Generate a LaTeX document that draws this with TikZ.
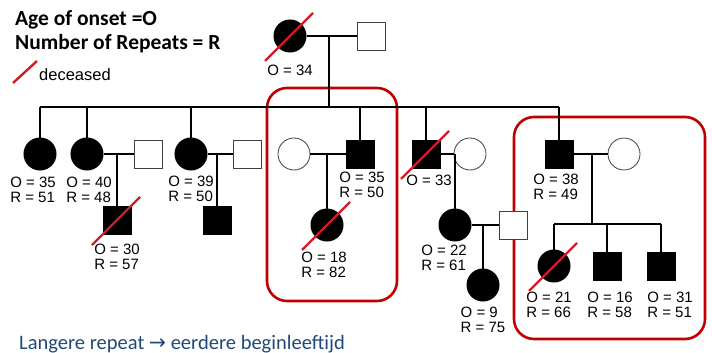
\documentclass[tikz,border=0pt]{standalone}
\usepackage{fontspec}
\setmainfont{Liberation Sans}
\newfontfamily\calibri{Carlito}
\newfontfamily\arrowfont{DejaVu Sans}
\definecolor{boxred}{RGB}{192,0,0}
\definecolor{slashred}{RGB}{204,30,36}
\definecolor{noteblue}{RGB}{31,73,125}
\tikzset{
  femA/.style={circle, draw, fill=black, line width=1pt, minimum size=32pt, inner sep=0pt},
  femU/.style={circle, draw=black!75, fill=white, line width=0.8pt, minimum size=32pt, inner sep=0pt},
  malA/.style={rectangle, draw, fill=black, line width=1pt, minimum size=28pt, inner sep=0pt},
  malU/.style={rectangle, draw=black!75, fill=white, line width=0.8pt, minimum size=28pt, inner sep=0pt},
  kin/.style={line width=1.8pt},
  dead/.style={draw=slashred, line width=2.4pt},
  redbox/.style={draw=boxred, line width=2.6pt, rounded corners=20pt},
  lbl/.style={font=\fontsize{15}{14.5}\selectfont, align=left, inner sep=0pt},
  legend/.style={anchor=base west, inner sep=0pt, font=\calibri\bfseries\fontsize{21.5}{21.5}\selectfont},
}
\newcommand{\deceased}[1]{\draw[dead] ([shift={(-25,25)}]#1.center) -- ([shift={(23,-23)}]#1.center);}
\def\ySib{107}
\def\yII{154}

\begin{document}
\begin{tikzpicture}[x=1pt, y=-1pt]
\useasboundingbox (0,0) rectangle (712,353);

\node[legend] (ageO) at (15,26) {Age of onset =O};
\node[legend] (numR) at (15,49) {Number of Repeats = R};
\coordinate (legA) at (13,83);
\coordinate (legB) at (37,61);
\draw[dead] (legA) -- (legB);
\node[anchor=base west, inner sep=0pt, font=\fontsize{16.5}{16.5}\selectfont] (decT) at (39,81) {deceased};

\draw[redbox] (267,88) rectangle (397,301);
\draw[redbox] (514,117) rectangle (705,339);

\node[femA] (gma) at (290,36) {};
\node[malU] (gpa) at (371,36) {};
\coordinate (jg) at (329,36);
\draw[kin] (gma) -- (gpa);
\coordinate (sibL) at (40,\ySib);
\coordinate (sibR) at (559,\ySib);
\draw[kin] (jg) -- (jg |- sibL);
\draw[kin] (sibL) -- (sibR);

\node[femA] (a) at (40,\yII) {};
\node[femA] (b) at (87,\yII) {};
\node[malU] (bw) at (148,\yII) {};
\node[femA] (c) at (191,\yII) {};
\node[malU] (cw) at (247,\yII) {};
\node[femU] (dw) at (294,\yII) {};
\node[malA] (d) at (360,\yII) {};
\node[malA] (e) at (426,\yII) {};
\node[femU] (ew) at (470,\yII) {};
\node[malA] (f) at (559,\yII) {};
\node[femU] (fw) at (624,\yII) {};
\foreach \n in {a,b,c,d,e,f} \draw[kin] (\n |- sibL) -- (\n.north);
\foreach \p/\q in {b/bw,c/cw,dw/d,e/ew,f/fw} \draw[kin] (\p) -- (\q);

\coordinate (jb) at (117,\yII);
\coordinate (jc) at (217,\yII);
\coordinate (jd) at (327,\yII);
\coordinate (je) at (455,\yII);
\coordinate (jf) at (592,\yII);
\node[malA] (bs) at (117,220) {};
\node[malA] (cs) at (217,220) {};
\node[femA] (dd) at (327,225) {};
\node[femA] (ed) at (455,225) {};
\node[malU] (edw) at (513,225) {};
\coordinate (jed) at (483,225);
\node[femA] (edd) at (483,285) {};
\draw[kin] (ed) -- (edw);
\foreach \j/\n in {jb/bs,jc/cs,jd/dd,je/ed,jed/edd} \draw[kin] (\j) -- (\n);

\coordinate (sibFL) at (554,224);
\coordinate (sibFR) at (661,224);
\draw[kin] (jf) -- (jf |- sibFL);
\draw[kin] (sibFL) -- (sibFR);
\node[femA] (fa) at (554,266) {};
\node[malA] (fb) at (607,266) {};
\node[malA] (fc) at (661,266) {};
\foreach \n in {fa,fb,fc} \draw[kin] (\n |- sibFL) -- (\n.north);

\node[lbl] (lgma) at (290,70) {O = 34};
\node[lbl] (la) at (33,190) {O = 35\\R = 51};
\node[lbl] (lb) at (89,190) {O = 40\\R = 48};
\node[lbl] (lbs) at (117,257) {O = 30\\R = 57};
\node[lbl] (lc) at (191,189) {O = 39\\R = 50};
\node[lbl] (ld) at (362,185) {O = 35\\R = 50};
\node[lbl] (ldd) at (324,265) {O = 18\\R = 82};
\node[lbl] (le) at (429,180) {O = 33};
\node[lbl] (led) at (444,258) {O = 22\\R = 61};
\node[lbl] (ledd) at (483,320) {O = 9\\R = 75};
\node[lbl] (lf) at (556,187) {O = 38\\R = 49};
\node[lbl] (lfa) at (549,305) {O = 21\\R = 66};
\node[lbl] (lfb) at (610,305) {O = 16\\R = 58};
\node[lbl] (lfc) at (670,305) {O = 31\\R = 51};

\deceased{gma}
\deceased{bs}
\deceased{dd}
\deceased{e}
\deceased{fa}

\node[anchor=base west, inner sep=0pt, text=noteblue, font=\calibri\fontsize{20.5}{20.5}\selectfont] (note) at (19,349) {Langere repeat {\arrowfont →} eerdere beginleeftijd};

\end{tikzpicture}
\end{document}
